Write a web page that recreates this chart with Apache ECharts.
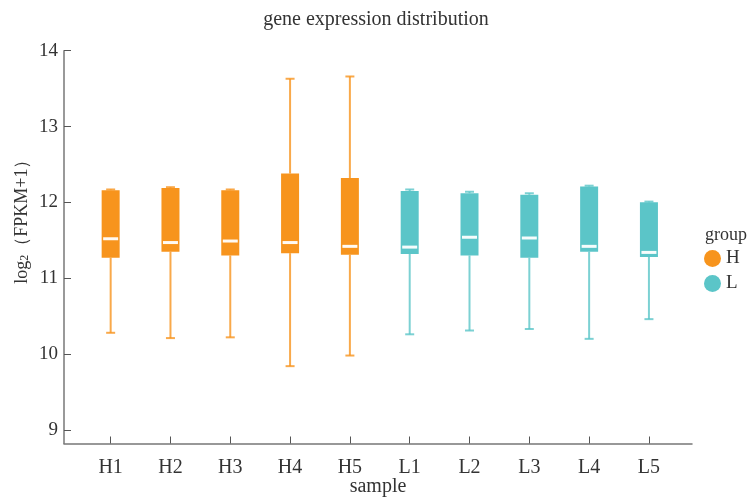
<!DOCTYPE html>
<html>
<head>
<meta charset="utf-8">
<script src="https://cdn.jsdelivr.net/npm/echarts@6/dist/echarts.min.js"></script>
<style>
html, body { margin: 0; padding: 0; background: #fff; }
#box { width: 752px; height: 497px; }
</style>
</head>
<body>
<div id="box"></div>
<script>
// sample names and group of each
var samples = ['H1', 'H2', 'H3', 'H4', 'H5', 'L1', 'L2', 'L3', 'L4', 'L5'];
var groups  = ['H', 'H', 'H', 'H', 'H', 'L', 'L', 'L', 'L', 'L'];
// five-number summary
var minVals = [10.28, 10.21, 10.22, 9.84, 9.98, 10.26, 10.31, 10.33, 10.20, 10.46];
var q1Vals  = [11.27, 11.35, 11.30, 11.33, 11.31, 11.32, 11.30, 11.27, 11.35, 11.28];
var medVals = [11.52, 11.47, 11.49, 11.47, 11.42, 11.41, 11.54, 11.53, 11.42, 11.34];
var q3Vals  = [12.16, 12.19, 12.16, 12.38, 12.32, 12.15, 12.12, 12.10, 12.21, 12.00];
var maxVals = [12.17, 12.20, 12.17, 13.63, 13.66, 12.17, 12.14, 12.12, 12.22, 12.01];
var yTicks = [9, 10, 11, 12, 13, 14];

var colors = { H: '#F7941D', L: '#5BC5C8' };
var serif = '"Liberation Serif", "DejaVu Serif", serif';

(function(){

	var chart = echarts.init(document.getElementById('box'));

	function groupData(g) {
		var out = [];
		for (var i = 0; i < samples.length; i++) {
			if (groups[i] === g) {
				out.push([i, minVals[i], q1Vals[i], medVals[i], q3Vals[i], maxVals[i]]);
			}
		}
		return out;
	}

	function renderBox(params, api) {
		var x = api.value(0);
		var pMin = api.coord([x, api.value(1)]);
		var pQ1 = api.coord([x, api.value(2)]);
		var pMed = api.coord([x, api.value(3)]);
		var pQ3 = api.coord([x, api.value(4)]);
		var pMax = api.coord([x, api.value(5)]);
		var cx = pQ1[0];
		var color = api.visual('color');
		var boxW = 18, capW = 9, medW = 15;
		var whisker = { stroke: color, lineWidth: 2, opacity: 0.8 };
		return {
			type: 'group',
			children: [
				{ type: 'line', shape: { x1: cx, y1: pMin[1], x2: cx, y2: pQ1[1] }, style: whisker },
				{ type: 'line', shape: { x1: cx, y1: pQ3[1], x2: cx, y2: pMax[1] }, style: whisker },
				{ type: 'line', shape: { x1: cx - capW / 2, y1: pMin[1], x2: cx + capW / 2, y2: pMin[1] }, style: whisker },
				{ type: 'line', shape: { x1: cx - capW / 2, y1: pMax[1], x2: cx + capW / 2, y2: pMax[1] }, style: whisker },
				{ type: 'rect', shape: { x: cx - boxW / 2, y: pQ3[1], width: boxW, height: pQ1[1] - pQ3[1] }, style: { fill: color } },
				{ type: 'rect', shape: { x: cx - medW / 2, y: pMed[1] - 1.5, width: medW, height: 3 }, style: { fill: '#ffffff', opacity: 0.95 } }
			]
		};
	}

	var option = {
		animation: false,
		title: [
			{
				text: 'gene expression distribution',
				left: 'center',
				top: 5,
				textStyle: { fontFamily: serif, fontSize: 20, fontWeight: 'normal', color: '#333' }
			},
			{
				text: 'group',
				left: 700,
				top: 221,
				textStyle: { fontFamily: serif, fontSize: 18, fontWeight: 'normal', color: '#333' }
			}
		],
		legend: {
			orient: 'vertical',
			left: 699,
			top: 244,
			icon: 'circle',
			itemWidth: 17,
			itemHeight: 17,
			itemGap: 6,
			data: ['H', 'L'],
			textStyle: { fontFamily: serif, fontSize: 19, color: '#333' }
		},
		grid: {
			left: 64,
			right: 60,
			top: 50.7,
			bottom: 53.5,
			outerBoundsMode: 'none'
		},
		xAxis: {
			type: 'value',
			min: -0.78,
			max: 9.72,
			name: 'sample',
			nameLocation: 'middle',
			nameGap: 33,
			nameMoveOverlap: false,
			nameTextStyle: { fontFamily: serif, fontSize: 20, color: '#333' },
			splitLine: { show: false },
			axisLine: { onZero: false, lineStyle: { color: '#777', width: 1.5 } },
			axisTick: {
				inside: true,
				length: 7,
				customValues: samples.map(function(s, i){ return i; }),
				lineStyle: { color: '#555' }
			},
			axisLabel: {
				customValues: samples.map(function(s, i){ return i; }),
				formatter: function(v){ return samples[Math.round(v)]; },
				margin: 14,
				fontFamily: serif,
				fontSize: 20,
				color: '#333'
			}
		},
		yAxis: {
			type: 'value',
			min: 8.82,
			max: 14,
			name: '{a|log}{s|2}{a|（FPKM+1）}',
			nameLocation: 'middle',
			nameGap: 33,
			nameMoveOverlap: false,
			nameTextStyle: {
				padding: [0, 0, 0, 60],
				rich: {
					a: { fontFamily: serif, fontSize: 18, color: '#333' },
					s: { fontFamily: serif, fontSize: 12, color: '#333', verticalAlign: 'bottom', padding: [6, 0, 0, 0] }
				}
			},
			splitLine: { show: false },
			axisLine: { show: true, onZero: false, lineStyle: { color: '#777', width: 1.5 } },
			axisTick: {
				show: true,
				inside: true,
				length: 7,
				customValues: yTicks,
				lineStyle: { color: '#555' }
			},
			axisLabel: {
				customValues: yTicks,
				margin: 6,
				fontFamily: serif,
				fontSize: 19,
				color: '#333'
			}
		},
		series: [
			{
				name: 'H',
				type: 'custom',
				itemStyle: { color: colors.H },
				renderItem: renderBox,
				encode: { x: 0, y: [1, 2, 3, 4, 5] },
				data: groupData('H')
			},
			{
				name: 'L',
				type: 'custom',
				itemStyle: { color: colors.L },
				renderItem: renderBox,
				encode: { x: 0, y: [1, 2, 3, 4, 5] },
				data: groupData('L')
			}
		]
	};

	chart.setOption(option);
})();
</script>
</body>
</html>
